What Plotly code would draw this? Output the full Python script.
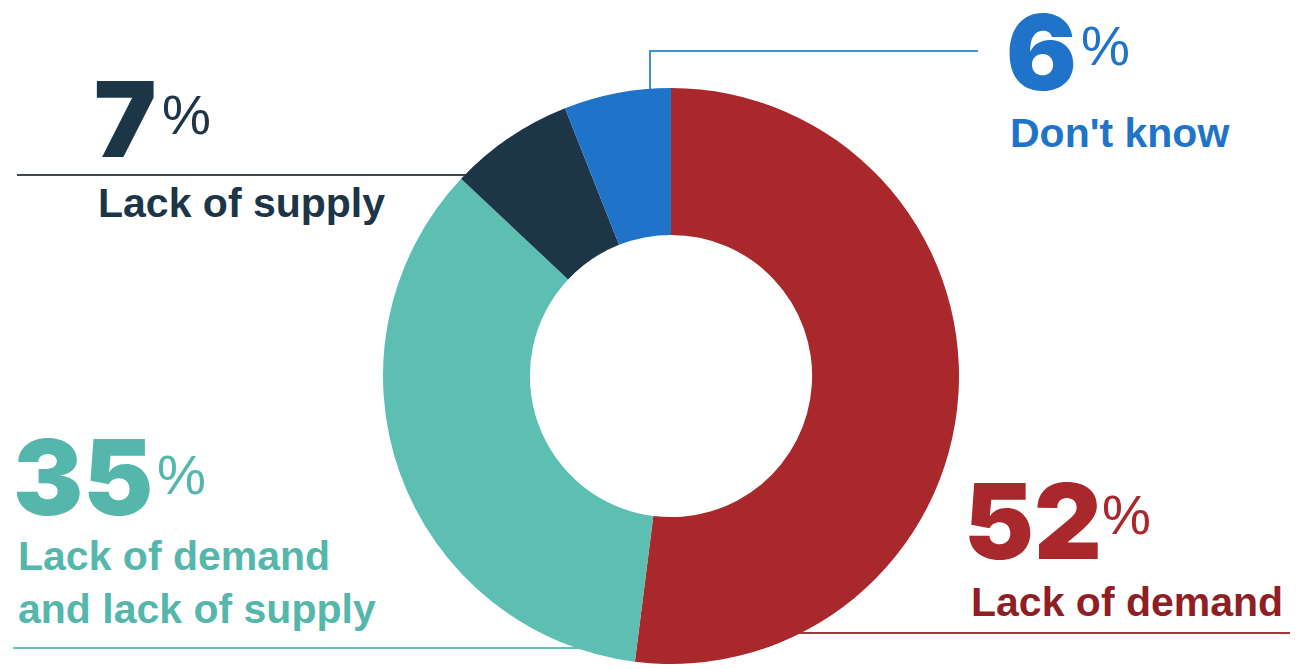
import plotly.graph_objects as go

# Survey answers and their shares (%)
categories = ["Lack of demand", "Lack of demand<br>and lack of supply", "Lack of supply", "Don't know"]
shares = [52, 35, 7, 6]
slice_colors = ["#A8282B", "#5CBFB1", "#1C3547", "#1F74C9"]
text_colors = ["#A8282B", "#55B7AB", "#1C3547", "#1F74C9"]
label_colors = ["#8E1F25", "#55B7AB", "#1C3547", "#1F74C9"]
line_colors = ["#A8343A", "#6BC0B6", "#3A4852", "#3D92C6"]

W, H = 1297, 669


def px(x):
    return x / W


def py(y):
    return 1 - y / H


fig = go.Figure()

# Donut: centre (671, 376) px, radius 288 px
cx, cy, r = 671, 376, 288
fig.add_trace(go.Pie(
    labels=categories,
    values=shares,
    marker=dict(colors=slice_colors, line=dict(width=0)),
    hole=0.49,
    sort=False,
    direction="clockwise",
    rotation=0,
    textinfo="none",
    hoverinfo="label+percent",
    showlegend=False,
    domain=dict(x=[px(cx - r), px(cx + r)], y=[py(cy + r), py(cy - r)]),
))

# Label placement (pixel positions of number, percent sign, caption)
# (number_x, number_cy, pct_x, pct_cy, caption_x, caption_cy)
placement = [
    (962, 520, 1100, 515, 969, 602),
    (11, 476, 155, 475, 16, 582),
    (92, 118, 160, 115, 96, 203),
    (1004, 51, 1079, 46, 1008, 133),
]

# Leader lines as pixel paths
leaders = [
    [(780, 633), (1290, 633)],
    [(13, 648), (620, 648)],
    [(17, 175), (480, 175)],
    [(650, 100), (650, 51), (978, 51)],
]

shapes = []
for pts, col in zip(leaders, line_colors):
    path = "M " + " L ".join(f"{px(x)},{py(y)}" for x, y in pts)
    shapes.append(dict(type="path", path=path, xref="paper", yref="paper",
                       line=dict(color=col, width=2), layer="below"))

annotations = []
for cat, val, tc, lc, (nx, ny, qx, qy, lx, ly) in zip(
        categories, shares, text_colors, label_colors, placement):
    annotations.append(dict(
        text=f"{val}", x=px(nx), y=py(ny), xref="paper", yref="paper",
        xanchor="left", yanchor="middle", showarrow=False,
        font=dict(family="Inter", size=105, weight=900, color=tc)))
    annotations.append(dict(
        text="%", x=px(qx), y=py(qy), xref="paper", yref="paper",
        xanchor="left", yanchor="middle", showarrow=False,
        font=dict(family="Liberation Sans", size=55, color=tc)))
    annotations.append(dict(
        text=f"<b>{cat}</b>", x=px(lx), y=py(ly), xref="paper", yref="paper",
        xanchor="left", yanchor="middle", align="left", showarrow=False,
        font=dict(family="Liberation Sans", size=41, color=lc)))

fig.update_layout(
    width=W, height=H,
    margin=dict(l=0, r=0, t=0, b=0),
    paper_bgcolor="white", plot_bgcolor="white",
    shapes=shapes,
    annotations=annotations,
)

fig.write_html("out.html")
